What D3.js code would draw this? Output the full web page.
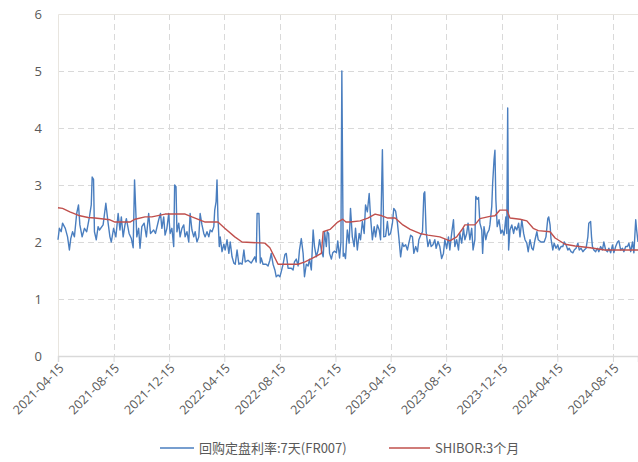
<!DOCTYPE html>
<html>
<head>
<meta charset="utf-8">
<script src="https://cdn.jsdelivr.net/npm/d3@7"></script>
<style>
  body { margin: 0; background: #fff; }
  svg { display: block; font-family: "Noto Sans CJK SC", "Noto Sans", sans-serif; }
  .axis text { fill: #595959; }
</style>
</head>
<body>
<div id="chart"></div>
<script>
// FR007 daily fixing
var frDates = [
  "2021-04-15","2021-04-18","2021-04-22","2021-04-25","2021-05-01","2021-05-06","2021-05-10","2021-05-13","2021-05-17","2021-05-21",
  "2021-05-26","2021-05-30","2021-06-02","2021-06-07","2021-06-12","2021-06-17","2021-06-23","2021-06-27","2021-06-29","2021-07-02",
  "2021-07-04","2021-07-08","2021-07-12","2021-07-15","2021-07-23","2021-07-29","2021-08-03","2021-08-07","2021-08-10","2021-08-15",
  "2021-08-20","2021-08-25","2021-08-29","2021-09-01","2021-09-05","2021-09-09","2021-09-12","2021-09-18","2021-09-23","2021-09-27",
  "2021-09-30","2021-10-05","2021-10-09","2021-10-12","2021-10-16","2021-10-21","2021-10-26","2021-10-31","2021-11-04","2021-11-11",
  "2021-11-15","2021-11-22","2021-11-26","2021-11-29","2021-12-03","2021-12-06","2021-12-10","2021-12-14","2021-12-17","2021-12-21",
  "2021-12-25","2021-12-27","2021-12-30","2022-01-01","2022-01-05","2022-01-08","2022-01-12","2022-01-16","2022-01-19","2022-01-23",
  "2022-01-27","2022-01-30","2022-02-03","2022-02-07","2022-02-10","2022-02-14","2022-02-18","2022-02-21","2022-02-25","2022-03-01",
  "2022-03-04","2022-03-08","2022-03-12","2022-03-15","2022-03-19","2022-03-23","2022-03-25","2022-03-28","2022-03-30","2022-04-01",
  "2022-04-04","2022-04-06","2022-04-10","2022-04-14","2022-04-17","2022-04-21","2022-04-25","2022-04-28","2022-05-02","2022-05-06",
  "2022-05-09","2022-05-13","2022-05-17","2022-05-20","2022-05-24","2022-05-28","2022-05-31","2022-06-06","2022-06-13","2022-06-21",
  "2022-06-24","2022-06-26","2022-06-30","2022-07-03","2022-07-05","2022-07-09","2022-07-16","2022-07-20","2022-07-24","2022-07-27",
  "2022-07-31","2022-08-04","2022-08-07","2022-08-11","2022-08-15","2022-08-18","2022-08-22","2022-08-26","2022-08-29","2022-09-02",
  "2022-09-09","2022-09-13","2022-09-16","2022-09-20","2022-09-24","2022-09-27","2022-10-01","2022-10-05","2022-10-08","2022-10-12",
  "2022-10-16","2022-10-19","2022-10-23","2022-10-27","2022-10-30","2022-11-03","2022-11-07","2022-11-10","2022-11-14","2022-11-18",
  "2022-11-21","2022-11-25","2022-11-27","2022-11-30","2022-12-02","2022-12-06","2022-12-09","2022-12-13","2022-12-17","2022-12-20",
  "2022-12-24","2022-12-27","2022-12-29","2023-01-01","2023-01-03","2023-01-06","2023-01-10","2023-01-14","2023-01-17","2023-01-21",
  "2023-01-25","2023-01-28","2023-02-01","2023-02-05","2023-02-08","2023-02-12","2023-02-16","2023-02-19","2023-02-23","2023-02-27",
  "2023-03-02","2023-03-06","2023-03-10","2023-03-13","2023-03-17","2023-03-21","2023-03-24","2023-03-28","2023-03-31","2023-04-04",
  "2023-04-08","2023-04-11","2023-04-15","2023-04-19","2023-04-22","2023-04-26","2023-04-30","2023-05-03","2023-05-07","2023-05-11",
  "2023-05-14","2023-05-18","2023-05-22","2023-05-25","2023-05-29","2023-06-02","2023-06-05","2023-06-09","2023-06-13","2023-06-16",
  "2023-06-20","2023-06-24","2023-06-27","2023-06-29","2023-07-02","2023-07-06","2023-07-10","2023-07-13","2023-07-17","2023-07-21",
  "2023-07-24","2023-07-28","2023-08-01","2023-08-05","2023-08-09","2023-08-12","2023-08-16","2023-08-20","2023-08-23","2023-08-27",
  "2023-08-31","2023-09-03","2023-09-07","2023-09-11","2023-09-14","2023-09-18","2023-09-22","2023-09-25","2023-09-29","2023-10-02",
  "2023-10-06","2023-10-10","2023-10-13","2023-10-17","2023-10-19","2023-10-22","2023-10-25","2023-10-28","2023-11-01","2023-11-03",
  "2023-11-06","2023-11-10","2023-11-13","2023-11-17","2023-11-19","2023-11-23","2023-11-25","2023-11-28","2023-11-30","2023-12-02",
  "2023-12-05","2023-12-09","2023-12-13","2023-12-16","2023-12-20","2023-12-24","2023-12-26","2023-12-28","2023-12-30","2024-01-02",
  "2024-01-06","2024-01-10","2024-01-13","2024-01-17","2024-01-21","2024-01-24","2024-01-28","2024-02-01","2024-02-04","2024-02-08",
  "2024-02-11","2024-02-15","2024-02-19","2024-02-22","2024-02-26","2024-03-01","2024-03-04","2024-03-10","2024-03-17","2024-03-21",
  "2024-03-25","2024-03-27","2024-03-30","2024-04-01","2024-04-05","2024-04-08","2024-04-12","2024-04-16","2024-04-19","2024-04-23",
  "2024-04-27","2024-04-30","2024-05-04","2024-05-08","2024-05-11","2024-05-15","2024-05-19","2024-05-22","2024-05-26","2024-05-30",
  "2024-06-02","2024-06-06","2024-06-10","2024-06-13","2024-06-17","2024-06-21","2024-06-23","2024-06-27","2024-06-29","2024-07-01",
  "2024-07-04","2024-07-08","2024-07-12","2024-07-15","2024-07-19","2024-07-23","2024-07-26","2024-07-30","2024-08-03","2024-08-06",
  "2024-08-10","2024-08-14","2024-08-17","2024-08-21","2024-08-25","2024-08-28","2024-09-01","2024-09-05","2024-09-08","2024-09-12",
  "2024-09-16","2024-09-19","2024-09-23","2024-09-27","2024-09-30","2024-10-04","2024-10-06","2024-10-09"
];
var frValues = [
  2.04,2.24,2.18,2.33,2.24,2.09,1.86,2.06,2.18,2.09,
  2.50,2.65,2.30,2.09,2.24,2.18,2.44,2.65,3.14,3.10,
  2.18,2.04,2.27,2.21,2.30,2.68,2.33,2.09,2.00,2.24,
  2.09,2.50,2.21,2.44,2.09,2.30,2.41,2.15,2.06,1.90,
  3.09,2.09,2.24,1.89,2.27,2.33,2.09,2.50,2.15,2.21,
  2.15,2.39,2.50,2.24,2.44,2.12,2.24,2.50,2.15,2.24,
  1.92,3.00,2.97,2.18,2.33,2.09,2.24,2.30,2.09,2.18,
  2.00,2.50,2.21,2.09,2.18,2.00,2.09,2.50,2.30,2.15,
  2.09,2.18,2.09,2.21,2.18,2.27,2.56,2.71,3.09,2.44,
  1.92,2.09,1.83,1.96,1.86,2.04,1.80,2.00,1.74,1.63,
  1.61,1.86,1.61,1.63,1.61,1.86,1.65,1.68,1.63,1.74,
  1.65,2.50,2.50,1.63,1.72,1.61,1.61,1.58,1.68,1.80,
  1.61,1.51,1.39,1.42,1.39,1.48,1.61,1.78,1.80,1.54,
  1.54,1.51,1.65,1.70,1.58,1.86,2.06,1.80,1.39,1.61,
  1.58,1.70,1.51,2.21,1.92,1.74,1.86,2.04,1.86,1.74,
  2.18,1.92,2.18,2.15,1.80,1.70,1.81,1.84,1.81,2.02,
  1.72,2.00,5.00,1.75,1.80,1.71,2.21,1.98,2.59,2.09,
  1.92,2.24,1.86,2.15,2.04,2.36,2.15,2.65,2.53,2.85,
  2.44,2.04,2.27,2.09,2.30,2.21,2.04,3.62,2.09,2.10,
  2.36,2.12,2.15,2.33,2.59,2.54,2.33,2.09,1.74,1.98,
  1.92,1.95,1.86,1.98,2.12,2.09,1.80,1.92,1.83,2.04,
  2.12,2.18,2.85,2.88,2.18,1.92,2.04,1.92,1.95,2.04,
  1.89,2.01,1.92,1.71,1.80,2.04,1.89,2.09,1.86,2.15,
  2.39,1.92,2.04,1.86,2.15,1.98,2.24,2.04,2.15,2.33,
  2.04,2.24,1.86,2.04,2.80,2.75,2.78,2.33,2.21,1.80,
  2.27,2.04,2.15,2.21,2.30,2.62,3.03,3.44,3.61,2.74,
  2.27,2.39,2.15,2.21,2.12,2.44,2.15,4.35,1.86,2.21,
  2.30,2.15,2.27,2.21,2.33,2.09,2.39,2.15,2.04,1.98,
  1.83,2.04,1.89,1.86,2.04,2.18,2.04,2.00,2.00,2.09,
  2.41,2.44,2.30,2.06,1.86,1.98,1.89,1.95,1.86,1.92,
  1.92,2.00,1.95,1.86,1.89,1.83,1.81,1.86,1.89,1.98,
  1.86,1.89,1.83,1.86,1.89,2.09,2.33,2.36,2.09,1.92,
  1.86,1.83,1.89,1.83,1.92,1.86,2.00,1.86,1.83,1.89,
  1.81,1.95,1.81,1.92,2.00,2.02,1.86,1.89,1.83,1.92,
  1.92,1.98,1.83,2.00,1.81,2.39,2.21,2.00
];

// SHIBOR 3M
var shiborDates = [
  "2021-04-15","2021-04-25","2021-05-11","2021-06-02","2021-06-20","2021-07-05","2021-08-07","2021-08-18","2021-09-20","2021-10-01",
  "2021-10-23","2021-11-07","2021-12-06","2022-01-19","2022-02-03","2022-03-04","2022-04-01","2022-04-16","2022-05-08","2022-05-24",
  "2022-07-13","2022-07-24","2022-08-11","2022-09-24","2022-10-09","2022-10-31","2022-11-14","2022-11-18","2022-12-03","2022-12-20",
  "2022-12-31","2023-01-07","2023-01-16","2023-02-07","2023-02-24","2023-03-12","2023-03-27","2023-04-09","2023-04-25","2023-05-12",
  "2023-05-28","2023-06-18","2023-07-06","2023-08-01","2023-08-23","2023-09-07","2023-09-18","2023-09-25","2023-10-17","2023-10-28",
  "2023-11-19","2023-11-30","2023-12-11","2023-12-26","2024-01-02","2024-01-24","2024-02-08","2024-02-22","2024-03-04","2024-03-30",
  "2024-04-10","2024-05-02","2024-05-24","2024-06-26","2024-07-28","2024-09-10","2024-10-09"
];
var shiborValues = [
  2.60,2.59,2.53,2.46,2.43,2.42,2.39,2.35,2.35,2.40,
  2.44,2.44,2.49,2.49,2.44,2.35,2.35,2.24,2.09,2.00,
  1.98,1.90,1.61,1.61,1.65,1.74,1.80,2.18,2.22,2.35,
  2.40,2.35,2.35,2.37,2.42,2.49,2.46,2.42,2.42,2.30,
  2.22,2.15,2.12,2.09,2.02,2.09,2.21,2.30,2.30,2.41,
  2.45,2.46,2.56,2.56,2.42,2.40,2.37,2.24,2.20,2.18,
  2.07,1.96,1.93,1.90,1.86,1.86,1.86
];

var xTickLabels = ["2021-04-15","2021-08-15","2021-12-15","2022-04-15","2022-08-15","2022-12-15",
  "2023-04-15","2023-08-15","2023-12-15","2024-04-15","2024-08-15"];
var yTicks = [0, 1, 2, 3, 4, 5, 6];
var seriesNames = ["回购定盘利率:7天(FR007)", "SHIBOR:3个月"];
var seriesColors = ["#4a7ebf", "#c0504d"];

var parse = d3.timeParse("%Y-%m-%d");
var width = 638, height = 462;
var margin = {top: 14, left: 58, right: 0, bottom: 106};
var chartWidth = width - margin.left - margin.right;
var chartHeight = height - margin.top - margin.bottom;

var svg = d3.select("#chart").append("svg").attr("width", width).attr("height", height);

var x = d3.scaleTime()
  .domain([parse("2021-04-15"), parse("2024-10-09")])
  .range([0, chartWidth]);
var y = d3.scaleLinear().domain([0, 6]).range([chartHeight, 0]);

var g = svg.append("g").attr("transform", "translate(" + [margin.left, margin.top] + ")");

// gridlines
g.append("g").selectAll("line").data(yTicks.filter(function(d){ return d > 0 && d < 6; }))
  .enter().append("line")
  .attr("x1", 0).attr("x2", chartWidth)
  .attr("y1", function(d){ return y(d) + 0.5; }).attr("y2", function(d){ return y(d) + 0.5; })
  .attr("stroke", "#d9d9d9").attr("stroke-dasharray", "6,4");

var tickDates = xTickLabels.map(parse);
g.append("g").selectAll("line").data(tickDates.slice(1))
  .enter().append("line")
  .attr("x1", function(d){ return Math.round(x(d)) + 0.5; })
  .attr("x2", function(d){ return Math.round(x(d)) + 0.5; })
  .attr("y1", 0).attr("y2", chartHeight)
  .attr("stroke", "#d9d9d9").attr("stroke-dasharray", "6,4");

// plot border (top, left)
g.append("path")
  .attr("d", "M0.5," + chartHeight + "V0.5H" + chartWidth)
  .attr("fill", "none").attr("stroke", "#e8e5df");

// y axis
var yAxis = d3.axisLeft(y).tickValues(yTicks).tickSize(0).tickPadding(16).tickFormat(d3.format("d"));
g.append("g").attr("class", "axis y").call(yAxis)
  .call(function(s){ s.select(".domain").remove(); })
  .selectAll("text").style("font-family", "'Open Sans', sans-serif").style("font-size", "13px");

// x axis
var xAxis = d3.axisBottom(x).tickValues(tickDates).tickSize(6).tickFormat(d3.timeFormat("%Y-%m-%d"));
var xg = g.append("g").attr("class", "axis x")
  .attr("transform", "translate(0," + chartHeight + ")")
  .call(xAxis);
xg.select(".domain").attr("stroke", "#d9d9d9").attr("stroke-width", 1.5);
xg.selectAll(".tick line").attr("stroke", "#d9d9d9");
xg.selectAll("text")
  .style("font-family", "'Open Sans', sans-serif").style("font-size", "12.5px")
  .attr("text-anchor", "end")
  .attr("dy", null).attr("y", null)
  .attr("transform", "translate(6,13) rotate(-45)");

// lines
var frData = frDates.map(function(d, i){ return {date: parse(d), value: frValues[i]}; });
var shiborData = shiborDates.map(function(d, i){ return {date: parse(d), value: shiborValues[i]}; });

var line = d3.line().x(function(d){ return x(d.date); }).y(function(d){ return y(d.value); });

g.append("path").datum(frData).attr("d", line)
  .attr("fill", "none").attr("stroke", seriesColors[0]).attr("stroke-width", 1.4).attr("stroke-linejoin", "round");
g.append("path").datum(shiborData).attr("d", line)
  .attr("fill", "none").attr("stroke", seriesColors[1]).attr("stroke-width", 1.4).attr("stroke-linejoin", "round");

// legend
var legendItems = [{x: 160, w: 34}, {x: 389, w: 41}];
var legend = svg.append("g").attr("transform", "translate(0,448)");
legendItems.forEach(function(it, i){
  legend.append("line").attr("x1", it.x).attr("x2", it.x + it.w).attr("y1", 0).attr("y2", 0)
    .attr("stroke", seriesColors[i]).attr("stroke-width", 1.5);
  legend.append("text").attr("x", it.x + it.w + 5).attr("y", 0).attr("dy", "0.35em")
    .attr("fill", "#595959").style("font-size", "13px").text(seriesNames[i]);
});
</script>
</body>
</html>
